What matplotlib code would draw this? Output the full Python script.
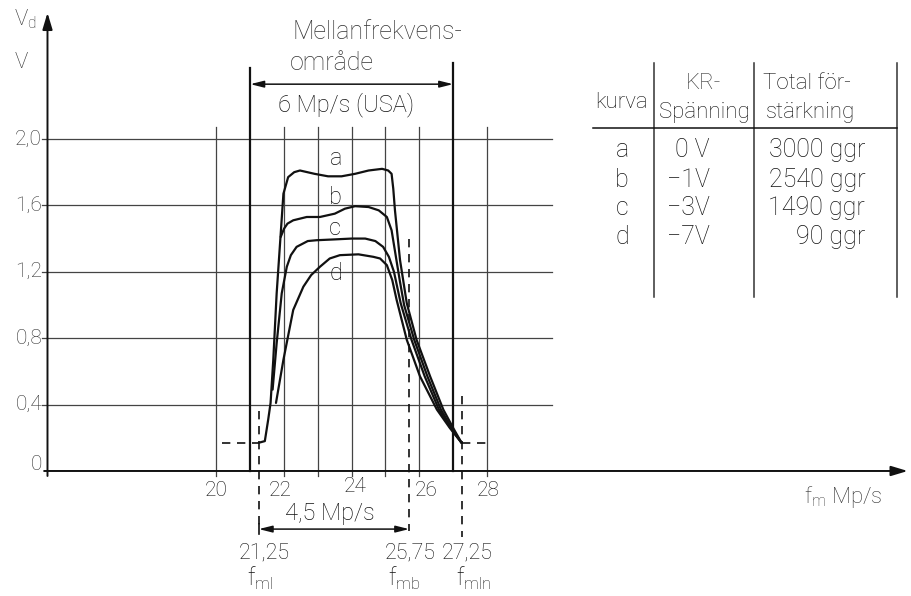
import matplotlib
matplotlib.use("Agg")
import matplotlib.pyplot as plt

plt.rcParams['font.family'] = ['Roboto', 'DejaVu Sans']
plt.rcParams['font.weight'] = 'light'
plt.rcParams['mathtext.fontset'] = 'custom'
plt.rcParams['mathtext.rm'] = 'Roboto:light'

# curves a-d (f_m in Mp/s, V_d in V)
a_x = [21.25, 21.43, 21.53, 21.60, 21.68, 21.78, 21.88, 21.98, 22.12, 22.30, 22.47, 22.9, 23.3, 23.7,
       24.1, 24.5, 24.9, 25.08, 25.18, 25.23, 25.28, 25.43, 25.63, 25.92, 26.32, 26.71, 27.0, 27.25]
a_y = [0.17, 0.18, 0.31, 0.41, 0.67, 1.07, 1.37, 1.67, 1.77, 1.80, 1.81, 1.79, 1.775, 1.775,
       1.79, 1.81, 1.82, 1.81, 1.79, 1.70, 1.57, 1.27, 1.01, 0.79, 0.57, 0.37, 0.26, 0.17]

b_x = [21.90, 22.0, 22.1, 22.27, 22.67, 23.06, 23.5, 23.8, 24.1, 24.5, 24.8, 25.04, 25.18,
       25.30, 25.42, 25.55, 25.85, 26.24, 26.64, 26.95, 27.25]
b_y = [1.41, 1.46, 1.49, 1.51, 1.53, 1.53, 1.55, 1.58, 1.595, 1.59, 1.57, 1.53, 1.45,
       1.30, 1.15, 1.0, 0.79, 0.57, 0.37, 0.26, 0.17]

c_x = [21.66, 21.78, 21.93, 22.08, 22.20, 22.37, 22.7, 22.96, 23.5, 24.0, 24.4, 24.7, 24.93,
       25.1, 25.25, 25.45, 25.77, 26.16, 26.58, 26.92, 27.25]
c_y = [0.49, 0.77, 1.07, 1.23, 1.30, 1.35, 1.385, 1.39, 1.395, 1.40, 1.40, 1.385, 1.35,
       1.29, 1.20, 1.01, 0.79, 0.57, 0.37, 0.26, 0.17]

d_x = [21.76, 21.98, 22.27, 22.57, 22.80, 23.06, 23.35, 23.65, 24.2, 24.64, 24.84, 25.04, 25.2,
       25.33, 25.63, 26.02, 26.52, 26.90, 27.25]
d_y = [0.41, 0.67, 0.97, 1.11, 1.18, 1.23, 1.28, 1.30, 1.305, 1.29, 1.28, 1.24, 1.15,
       1.03, 0.79, 0.57, 0.37, 0.26, 0.17]

curve_labels = ['a', 'b', 'c', 'd']
curve_label_x = [23.55, 23.53, 23.5, 23.54]
curve_label_y = [1.885, 1.65, 1.46, 1.19]

y_ticks = [0, 0.4, 0.8, 1.2, 1.6, 2.0]
y_tick_labels = ['0', '0,4', '0,8', '1,2', '1,6', '2,0']
x_grid = [20, 22, 23, 24, 25, 26, 28]
x_tick_pos = [20.0, 21.9, 24.1, 26.2, 28.05]
x_tick_labels = ['20', '22', '24', '26', '28']

band_lo, band_hi = 21, 27          # Mellanfrekvensområde, 6 Mp/s
f_ml, f_mb, f_mln = 21.25, 25.75, 27.25
v_floor = 0.17

table_head = ['kurva', 'KR-\nSpänning', 'Total för-\nstärkning']
table_curve = ['a', 'b', 'c', 'd']
table_kr = ['0 V', '\u22121V', '\u22123V', '\u22127V']
table_gain = ['3000 ggr', '2540 ggr', '1490 ggr', '90 ggr']

ink = '#111111'
grey = '#333333'

fig = plt.figure(figsize=(9.11, 5.96), dpi=100)
ax = fig.add_axes([0, 0, 1, 1])
ax.set_xlim(13.595, 40.547)
ax.set_ylim(-0.753, 2.837)
ax.axis('off')

# grid
for yv in y_ticks[1:]:
    ax.plot([14.85, 29.93], [yv, yv], color='#444444', lw=0.9)
for xv in x_grid:
    ax.plot([xv, xv], [-0.03, 2.07], color='#444444', lw=0.9)
for xv, top in [(band_lo, 2.43), (band_hi, 2.46)]:
    ax.plot([xv, xv], [0, top], color=ink, lw=1.6)

# axes with arrows
ax.annotate('', xy=(40.45, 0), xytext=(14.9, 0),
            arrowprops=dict(arrowstyle='-|>,head_length=1.0,head_width=0.3', color=ink, lw=1.4,
                            shrinkA=0, shrinkB=0))
ax.annotate('', xy=(15, 2.76), xytext=(15, -0.03),
            arrowprops=dict(arrowstyle='-|>,head_length=1.0,head_width=0.3', color=ink, lw=1.4,
                            shrinkA=0, shrinkB=0))

# curves
for cx, cy in [(a_x, a_y), (b_x, b_y), (c_x, c_y), (d_x, d_y)]:
    ax.plot(cx, cy, color=ink, lw=1.6, solid_joinstyle='round', solid_capstyle='round')
for lab, lx, ly in zip(curve_labels, curve_label_x, curve_label_y):
    ax.text(lx, ly, lab, fontsize=17, color=ink, ha='center', va='center')

# dashed helper lines
dash = dict(color=ink, lw=1.2, ls=(0, (5, 4)))
ax.plot([20.15, f_ml], [v_floor, v_floor], **dash)
ax.plot([f_mln, 28.0], [v_floor, v_floor], **dash)
ax.plot([f_ml, f_ml], [0.36, -0.36], **dash)
ax.plot([f_mb - 0.05, f_mb - 0.05], [1.40, -0.36], **dash)
ax.plot([f_mln, f_mln], [0.45, -0.40], **dash)

# 6 Mp/s band arrow
ax.annotate('', xy=(band_hi, 2.33), xytext=(band_lo, 2.33),
            arrowprops=dict(arrowstyle='<|-|>,head_length=0.8,head_width=0.2', color=ink, lw=1.1,
                            shrinkA=0, shrinkB=0))
ax.text(22.26, 2.645, 'Mellanfrekvens-', fontsize=18, color=grey, ha='left', va='center')
ax.text(22.17, 2.46, 'område', fontsize=18, color=grey, ha='left', va='center')
ax.text(21.82, 2.205, '6 Mp/s (USA)', fontsize=17, color=ink, ha='left', va='center')

# 4,5 Mp/s arrow
ax.annotate('', xy=(f_mb - 0.05, -0.35), xytext=(f_ml, -0.35),
            arrowprops=dict(arrowstyle='<|-|>,head_length=0.8,head_width=0.2', color=ink, lw=1.1,
                            shrinkA=0, shrinkB=0))
ax.plot([f_ml, f_ml], [-0.32, -0.38], color=ink, lw=1.2)
ax.text(23.36, -0.255, '4,5 Mp/s', fontsize=17, color=ink, ha='center', va='center')

# axis labels
for yv, lab in zip(y_ticks, y_tick_labels):
    ax.text(14.84, yv + (0.04 if yv == 0 else 0), lab, fontsize=15, color=grey,
            ha='right', va='center')
for xv, lab in zip(x_tick_pos, x_tick_labels):
    ax.text(xv, -0.115 + (0.02 if lab == '24' else 0), lab, fontsize=15, color=ink,
            ha='center', va='center')
ax.text(14.02, 2.72, r'V$_{\mathrm{d}}$', fontsize=16, color=grey, ha='left', va='center')
ax.text(14.02, 2.46, 'V', fontsize=16, color=grey, ha='left', va='center')
ax.text(38.54, -0.157, r'f$_{\mathrm{m}}$ Mp/s', fontsize=16, color=grey, ha='center', va='center')

for xv, num in [(21.40, '21,25'), (25.72, '25,75'), (27.42, '27,25')]:
    ax.text(xv, -0.495, num, fontsize=15.5, color=ink, ha='center', va='center')
for xv, name in [(21.29, r'f$_{\mathrm{ml}}$'), (25.57, r'f$_{\mathrm{mb}}$'), (27.60, r'f$_{\mathrm{mln}}$')]:
    ax.text(xv, -0.645, name, fontsize=17, color=ink, ha='center', va='center')

# table
col_lines = [32.94, 35.90, 40.13]
for xv in col_lines:
    ax.plot([xv, xv], [1.048, 2.458], color=grey, lw=1.1)
ax.plot([31.14, 40.13], [2.066, 2.066], color=ink, lw=1.1)
ax.text(31.20, 2.217, table_head[0], fontsize=16, color=ink, ha='left', va='center')
kr1, kr2 = table_head[1].split('\n')
ax.text(34.42, 2.337, kr1, fontsize=16, color=grey, ha='center', va='center')
ax.text(34.42, 2.157, kr2, fontsize=16, color=ink, ha='center', va='center')
tg1, tg2 = table_head[2].split('\n')
ax.text(36.17, 2.337, tg1, fontsize=16, color=ink, ha='left', va='center')
ax.text(36.26, 2.157, tg2, fontsize=16, color=ink, ha='left', va='center')
row_y = [1.934, 1.753, 1.584, 1.410]
for ry, c, kr, g in zip(row_y, table_curve, table_kr, table_gain):
    ax.text(32.0, ry, c, fontsize=18, color=ink, ha='center', va='center')
    ax.text(34.60, ry, kr, fontsize=18, color=ink, ha='right', va='center')
    ax.text(39.19, ry, g, fontsize=18, color=ink, ha='right', va='center')

fig.savefig('out.png', dpi=100, facecolor='white')
